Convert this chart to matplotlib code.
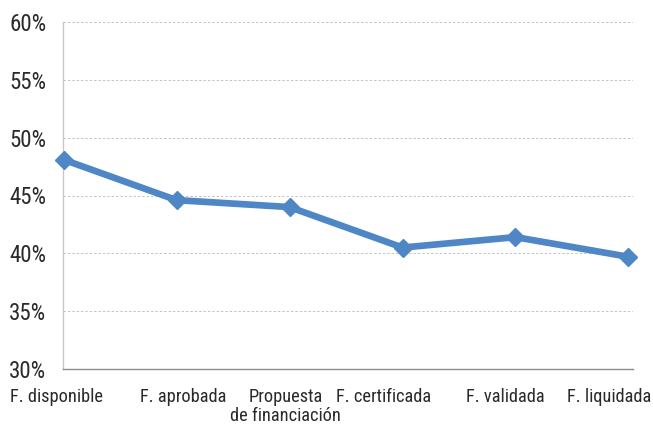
import matplotlib
matplotlib.use("Agg")
import matplotlib.pyplot as plt
import matplotlib.transforms as mtransforms
from matplotlib import font_manager
from matplotlib.ticker import FuncFormatter, MultipleLocator

categories = ["F. disponible", "F. aprobada", "Propuesta\nde financiación",
              "F. certificada", "F. validada", "F. liquidada"]
values = [48.1, 44.6, 44.0, 40.5, 41.4, 39.7]

names = {f.name for f in font_manager.fontManager.ttflist}
cands = ['Roboto Condensed', 'Liberation Sans Narrow', 'DejaVu Sans Condensed',
         'Open Sans Condensed', 'Noto Sans Condensed']
fam = [c for c in cands if c in names]
plt.rcParams['font.family'] = fam + ['DejaVu Sans']
plt.rcParams['font.stretch'] = 'condensed'

fig = plt.figure(figsize=(6.53, 4.25), dpi=100)
W, H = 653, 425
ax = fig.add_axes([63 / W, 1 - 369 / H, (633 - 63) / W, (369 - 22) / H])

x = list(range(len(categories)))
ax.plot(x, values, color='#4f86c6', linewidth=4.8, marker='D', markersize=9,
        markeredgecolor='#4f86c6', markerfacecolor='#4f86c6', solid_joinstyle='round',
        clip_on=False, zorder=3)

ax.set_ylim(30, 60)
ax.set_xlim(-0.005, 5.04)
ax.yaxis.set_major_locator(MultipleLocator(5))
ax.yaxis.set_major_formatter(FuncFormatter(lambda v, p: f"{v:.0f}%"))
ax.grid(axis='y', color='#c4c4c4', linestyle=(0, (2.5, 2)), linewidth=0.7)
ax.set_axisbelow(True)

for s in ['top', 'right']:
    ax.spines[s].set_visible(False)
ax.spines['left'].set_color('#c8c8c8')
ax.spines['left'].set_linewidth(1.0)
ax.spines['bottom'].set_color('#8c8c8c')
ax.spines['bottom'].set_linewidth(1.0)

ax.tick_params(axis='both', length=0)
ax.tick_params(axis='y', labelsize=16.5, pad=12, colors='#2a2a2a')
ax.tick_params(axis='x', labelsize=13.2, pad=13.5, colors='#2a2a2a')
ax.set_xticks(x)
ax.set_xticklabels(categories, linespacing=1.1)

shifts_px = [-7.5, 7, -4, -19, -10, -19]
for lab, dx in zip(ax.get_xticklabels(), shifts_px):
    lab.set_transform(lab.get_transform() + mtransforms.ScaledTranslation(dx / 100, 0, fig.dpi_scale_trans))

fig.savefig("out.png", dpi=100)
